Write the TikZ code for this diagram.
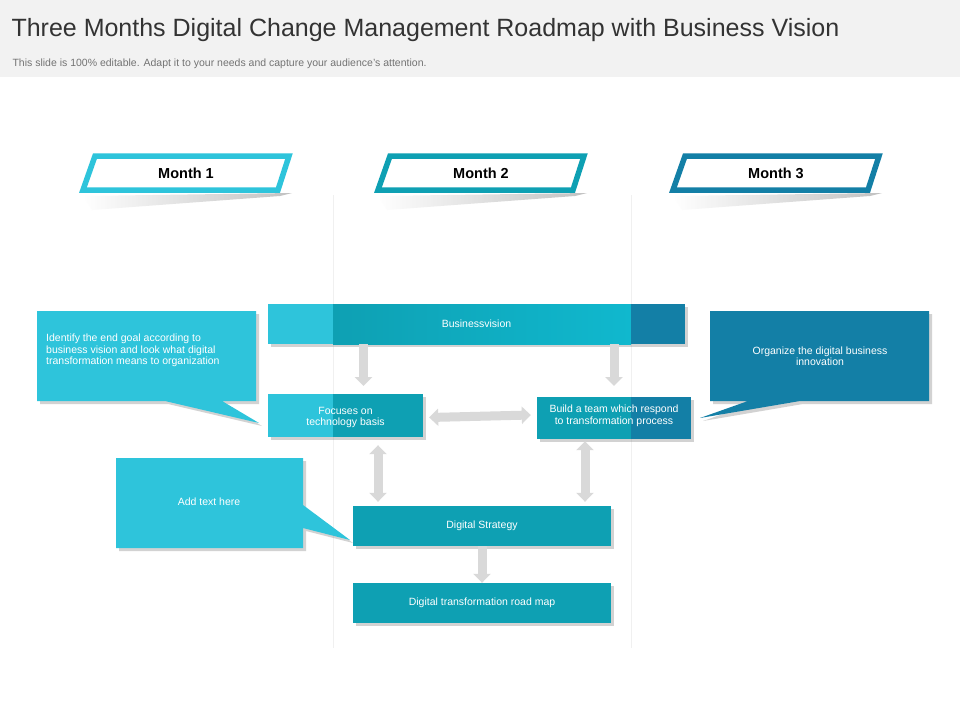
\documentclass[tikz,border=0pt]{standalone}
\usepackage{fontspec}
\setmainfont{Liberation Sans}
\usetikzlibrary{arrows.meta,shadows,calc}
\definecolor{tl}{HTML}{2EC4DB}
\definecolor{tm}{HTML}{0EA0B3}
\definecolor{tb}{HTML}{10B8CE}
\definecolor{td}{HTML}{137FA6}
\definecolor{hd}{HTML}{F2F2F2}
\definecolor{ar}{HTML}{D9D9D9}
\tikzset{
  box/.style={draw=none,inner sep=1pt,text=white,font=\fontsize{10.5}{11.5}\selectfont,align=center},
  sh/.style={drop shadow={opacity=0.35,shadow xshift=3pt,shadow yshift=-3pt}},
  garrow/.style={ar,line width=9pt,-{Triangle[width=17pt,length=9pt]}},
  gdarrow/.style={ar,line width=9pt,{Triangle[width=17pt,length=9pt]}-{Triangle[width=17pt,length=9pt]}},
  month/.style={line width=5.5pt,fill=white,line join=miter},
  mtext/.style={font=\bfseries\fontsize{14.5}{16}\selectfont}
}
\begin{document}
\begin{tikzpicture}[x=1pt,y=-1pt]
\useasboundingbox (0,0) rectangle (960,720);
\fill[white] (0,0) rectangle (960,720);
\fill[hd] (0,0) rectangle (960,77);
\node[anchor=west,font=\fontsize{25}{28}\selectfont,text=black!80] (title) at (8,30) {Three Months Digital Change Management Roadmap with Business Vision};
\node[anchor=west,font=\fontsize{10.5}{12}\selectfont,text=black!55] (sub) at (9,64) {This slide is 100\% editable. Adapt it to your needs and capture your audience’s attention.};
% guide lines
\draw[black!6,line width=0.8pt] (333,195) -- (333,648) (631,195) -- (631,648);
% month banners
\foreach \x/\c/\t/\n in {80/tl/Month 1/m1,375/tm/Month 2/m2,670/td/Month 3/m3}{
  \shade[left color=white,right color=black!40,opacity=0.6] (\x+12,210) -- (\x+200,196) -- (\x+212,193) -- (\x+3,196) -- cycle;
  \draw[month,draw=\c] (\x+15,156) -- (\x+209,156) -- (\x+198,190) -- (\x+3,190) -- cycle;
  \node[mtext] (\n) at (\x+106,173) {\t};
}
% business vision
\fill[sh,tl] (268,304) rectangle (685,344);
\shade[left color=tm,right color=tb] (333,304) rectangle (631,344);
\fill[td] (631,304) rectangle (685,344);
\node[box,minimum width=417,minimum height=40] (bv) at (476.5,324) {Businessvision};
% focuses
\fill[sh,tm] (268,394) rectangle (423,437);
\fill[tl] (268,394) rectangle (333,437);
\node[box,minimum width=155,minimum height=43] (fo) at (345.5,417.5) {Focuses on\\technology basis};
% build team
\fill[sh,tm] (537,397) rectangle (691,439);
\fill[td] (631,397) rectangle (691,439);
\node[box,minimum width=154,minimum height=42] (bt) at (614,416) {Build a team which respond\\to transformation process};
% digital strategy
\node[box,sh,fill=tm,minimum width=258,minimum height=40] (ds) at (482,526) {Digital Strategy};
\node[box,sh,fill=tm,minimum width=258,minimum height=40] (rm) at (482,603) {Digital transformation road map};
% callouts
\fill[sh,tl] (37,311) -- (256,311) -- (256,401) -- (222,401) -- (259,423) -- (165,401) -- (37,401) -- cycle;
\node[box,align=left,anchor=north west] (c1) at (45,333) {Identify the end goal according to\\business vision and look what digital\\transformation means to organization};
\fill[sh,tl] (116,458) -- (303,458) -- (303,505) -- (350,540) -- (303,528) -- (303,548) -- (116,548) -- cycle;
\node[box] (c2) at (209,502) {Add text here};
\fill[sh,td] (710,311) -- (929,311) -- (929,401) -- (800,401) -- (700,418) -- (748,401) -- (710,401) -- cycle;
\node[box] (c3) at (820,356) {Organize the digital business\\innovation};
% arrows
\draw[garrow] ([xshift=-113]bv.south) -- ([xshift=-113]bv.south |- 0,386);
\draw[garrow] ([xshift=137.5]bv.south) -- ([xshift=137.5]bv.south |- 0,386);
\draw[gdarrow] ([xshift=6]fo.east) -- ([xshift=-6,yshift=1]bt.west);
\draw[gdarrow] ([xshift=32.5,yshift=-6]fo.south) -- ([xshift=-104,yshift=4]ds.north);
\draw[gdarrow] ([xshift=-29,yshift=-4]bt.south) -- ([xshift=103,yshift=4]ds.north);
\draw[garrow] (ds.south) -- (rm.north);
\end{tikzpicture}
\end{document}
